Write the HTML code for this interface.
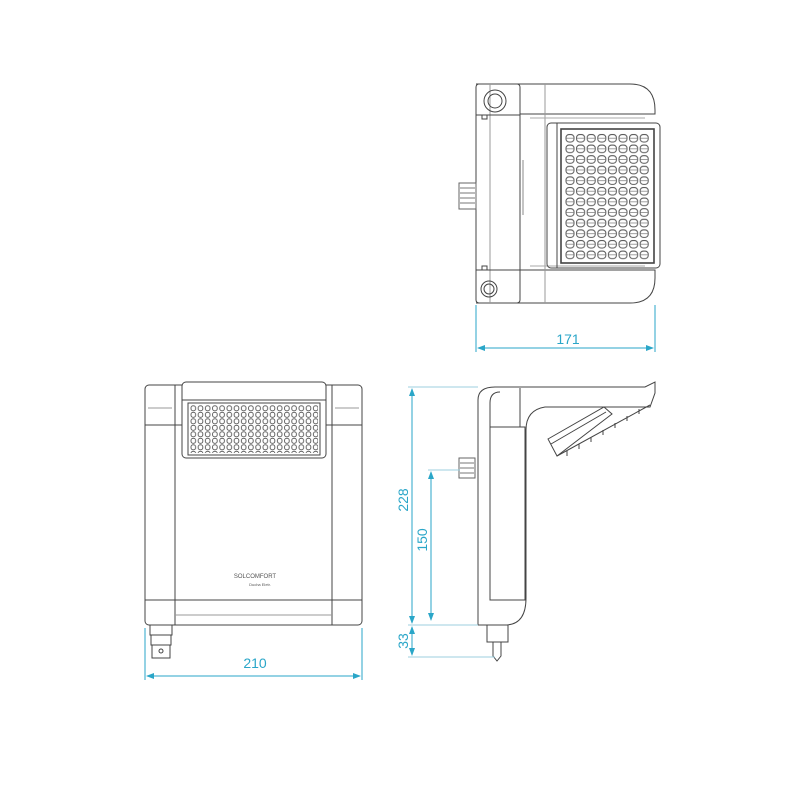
<!DOCTYPE html>
<html><head><meta charset="utf-8"><style>html,body{margin:0;padding:0;background:#fff}svg{display:block}</style></head>
<body>
<svg width="800" height="800" viewBox="0 0 800 800" xmlns="http://www.w3.org/2000/svg" font-family="Liberation Sans, sans-serif">
<defs>
<pattern id="g1" x="565" y="133" width="10.6" height="10.6" patternUnits="userSpaceOnUse">
<rect x="1" y="1.5" width="8" height="7.5" rx="3" fill="none" stroke="#555" stroke-width="1"/>
<line x1="1.5" y1="5.2" x2="8.5" y2="5.2" stroke="#777" stroke-width="0.7"/>
</pattern>
<pattern id="g2" x="190" y="405" width="7.2" height="6.5" patternUnits="userSpaceOnUse">
<rect x="1" y="0.8" width="4.6" height="5" rx="2" fill="none" stroke="#555" stroke-width="0.9"/>
</pattern>
<marker id="ar" markerWidth="8" markerHeight="6" refX="7" refY="3" orient="auto-start-reverse" markerUnits="userSpaceOnUse"><path d="M0,0 L8,3 L0,6z" fill="#2aa6c8"/></marker>
</defs>
<g fill="none" stroke="#444" stroke-width="1">
<!-- TOP VIEW -->
<path d="M476,84 H630 Q655,84 655,110 V114 H520"/>
<path d="M476,303 H630 Q655,303 655,278 V270 H520"/>
<rect x="476" y="84" width="44" height="219" rx="3"/>
<line x1="490" y1="84" x2="490" y2="303" stroke="#999"/>
<line x1="476" y1="115" x2="520" y2="115"/>
<line x1="476" y1="270" x2="520" y2="270"/>
<line x1="520" y1="114" x2="520" y2="270"/>
<line x1="545" y1="84" x2="545" y2="303" stroke="#999"/>
<line x1="523" y1="160" x2="523" y2="215" stroke="#888"/>
<line x1="530" y1="118" x2="645" y2="118" stroke="#aaa"/>
<line x1="530" y1="266" x2="645" y2="266" stroke="#aaa"/>
<circle cx="495" cy="101" r="11"/><circle cx="495" cy="101" r="7"/>
<circle cx="489" cy="289" r="8"/><circle cx="489" cy="289" r="5"/>
<rect x="482" y="115" width="5" height="4"/><rect x="482" y="266" width="5" height="4"/>
<rect x="459" y="183" width="17" height="26" stroke="#666"/>
<path d="M460,188 H475 M460,193 H475 M460,198 H475 M460,203 H475" stroke="#777"/>
<rect x="547" y="123" width="113" height="145" rx="4"/>
<line x1="557" y1="123" x2="557" y2="268"/>
<rect x="561" y="129" width="93" height="134" stroke-width="1.6"/>
<rect x="565" y="133" width="85" height="127" fill="url(#g1)" stroke="none"/>
<!-- FRONT VIEW -->
<rect x="145" y="385" width="217" height="240" rx="4"/>
<line x1="175" y1="385" x2="175" y2="625"/>
<line x1="332" y1="385" x2="332" y2="625"/>
<line x1="145" y1="425" x2="182" y2="425"/>
<line x1="326" y1="425" x2="362" y2="425"/>
<line x1="145" y1="600" x2="362" y2="600"/>
<line x1="175" y1="615" x2="332" y2="615" stroke="#999"/>
<line x1="148" y1="408" x2="172" y2="408" stroke="#999"/>
<line x1="335" y1="408" x2="359" y2="408" stroke="#999"/>
<rect x="182" y="382" width="144" height="76" rx="4" fill="#fff"/>
<line x1="182" y1="400" x2="326" y2="400"/>
<rect x="188" y="403" width="132" height="52"/>
<rect x="190" y="405" width="128" height="48" fill="url(#g2)" stroke="none"/>
<path d="M150,625 V635 H172 V625 M151,635 V645 H171 V635 M152,645 V658 H170 V645" />
<circle cx="161" cy="651" r="2"/>
<text x="255" y="578" font-size="6" fill="#555" stroke="none" text-anchor="middle">SOLCOMFORT</text>
<text x="260" y="586" font-size="4" fill="#555" stroke="none" text-anchor="middle">Ducha Eletr.</text>
<!-- SIDE VIEW -->
<path d="M478,625 V400 Q478,387 495,387 H645 L655,382 V393 L650,407 H545 Q526,410 526,430 V598 Q526,625 505,625 Z"/>
<rect x="490" y="427" width="35" height="173"/>
<path d="M490,427 V403 Q490,392 500,392"/>
<line x1="520" y1="388" x2="520" y2="427"/>
<path d="M548,439 L604,407 L612,414 L557,456 Z" fill="#fff"/>
<line x1="551" y1="444" x2="606" y2="412"/>
<path d="M557,456 L650,405"/>
<path d="M567,451 v5 m12,-12 v5 m12,-12 v5 m12,-12 v5 m12,-12 v5 m12,-12 v5 m12,-12 v5"/>
<rect x="459" y="458" width="16" height="20" stroke="#666"/>
<path d="M460,463 H474 M460,468 H474 M460,473 H474" stroke="#777"/>
<rect x="487" y="625" width="21" height="17"/>
<path d="M493,642 V656 L497,661 L501,656 V642"/>
</g>
<!-- DIMENSIONS -->
<g stroke="#2aa6c8" stroke-width="1" fill="none">
<line x1="476" y1="305" x2="476" y2="352"/>
<line x1="655" y1="305" x2="655" y2="352"/>
<line x1="478" y1="348" x2="653" y2="348" marker-start="url(#ar)" marker-end="url(#ar)"/>
<line x1="145" y1="628" x2="145" y2="680"/>
<line x1="362" y1="628" x2="362" y2="680"/>
<line x1="147" y1="676" x2="360" y2="676" marker-start="url(#ar)" marker-end="url(#ar)"/>
<line x1="408" y1="387" x2="478" y2="387" stroke="#9ccfdf"/>
<line x1="408" y1="625" x2="478" y2="625" stroke="#9ccfdf"/>
<line x1="408" y1="657" x2="495" y2="657" stroke="#9ccfdf"/>
<line x1="428" y1="470" x2="460" y2="470" stroke="#9ccfdf"/>
<line x1="412" y1="389" x2="412" y2="623" marker-start="url(#ar)" marker-end="url(#ar)"/>
<line x1="412" y1="627" x2="412" y2="655" marker-start="url(#ar)" marker-end="url(#ar)"/>
<line x1="431" y1="472" x2="431" y2="620" marker-start="url(#ar)" marker-end="url(#ar)"/>
</g>
<g fill="#2aa6c8" font-size="14">
<text x="568" y="344" text-anchor="middle">171</text>
<text x="255" y="668" text-anchor="middle">210</text>
<text transform="translate(408,500) rotate(-90)" text-anchor="middle">228</text>
<text transform="translate(427,540) rotate(-90)" text-anchor="middle">150</text>
<text transform="translate(408,641) rotate(-90)" text-anchor="middle">33</text>
</g>
</svg>
</body></html>
